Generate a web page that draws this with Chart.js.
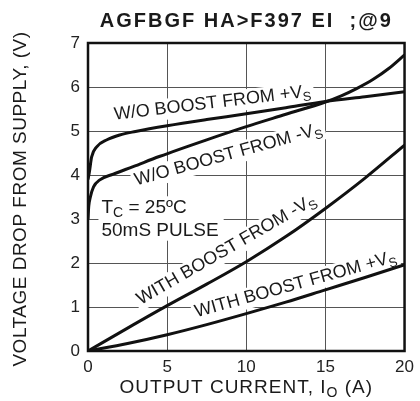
<!DOCTYPE html>
<html>
<head>
<meta charset="utf-8">
<script src="https://cdn.jsdelivr.net/npm/chart.js@4/dist/chart.umd.min.js"></script>
<style>
  html, body { margin: 0; padding: 0; background: #fff; }
  #wrap { width: 420px; height: 401px; position: relative; }
</style>
</head>
<body>
<div id="wrap"><canvas id="c"></canvas></div>
<script>
// ---- Data ----
const chartTitle = "AGFBGF HA>F397 EI  ;@9";
const xTickValues = [0, 5, 10, 15, 20];
const yTickValues = [0, 1, 2, 3, 4, 5, 6, 7];

const woPlusX  = [0, 0.08, 0.23, 0.55, 1.2, 2, 3, 5, 7.5, 10, 12.5, 15, 17.5, 20];
const woPlusY  = [3.9, 4.05, 4.41, 4.64, 4.8, 4.91, 4.99, 5.12, 5.26, 5.39, 5.53, 5.67, 5.78, 5.89];

const woMinusX = [0, 0.05, 0.15, 0.35, 0.75, 1.6, 2.85, 4.5, 7.5, 10, 12.5, 15, 16, 17, 18, 19, 20];
const woMinusY = [3.0, 3.3, 3.5, 3.73, 3.89, 4.02, 4.19, 4.42, 4.8, 5.1, 5.38, 5.66, 5.8, 5.97, 6.17, 6.42, 6.73];

const withMinusX = [0, 2.5, 5, 7.5, 10, 12.5, 15, 17.5, 20];
const withMinusY = [0, 0.52, 1.03, 1.52, 2.03, 2.6, 3.24, 3.93, 4.68];

const withPlusX = [0, 2.5, 5, 7.5, 10, 12.5, 15, 17.5, 20];
const withPlusY = [0, 0.17, 0.37, 0.6, 0.85, 1.11, 1.39, 1.67, 1.96];

// curve annotations (text, subscript, anchor in data units, angle in degrees)
const curveLabelText = ["W/O BOOST FROM +V", "W/O BOOST FROM -V", "WITH BOOST FROM -V", "WITH BOOST FROM +V"];
const curveLabelSub  = ["S", "S", "S", "S"];
const curveLabelX    = [7.9, 8.95, 8.9, 13.2];
const curveLabelY    = [5.52, 4.35, 2.2, 1.4];
const curveLabelAng  = [6.8, 15.5, 30, 15.5];

const xAxisTitle = ["OUTPUT CURRENT, I", "O", " (A)"];
const yAxisTitle = "VOLTAGE DROP FROM SUPPLY, (V)";
const noteLine1 = ["T", "C", " = 25ºC"];
const noteLine2 = "50mS PULSE";

// ---- Build ----
const pts = (xs, ys) => xs.map((v, i) => ({ x: v, y: ys[i] }));
const FONT = '"Liberation Sans", Arial, Helvetica, sans-serif';
Chart.defaults.font.family = FONT;

function drawSubText(ctx, parts, x, y, big, small, align) {
  ctx.font = big + 'px ' + FONT;
  const w0 = ctx.measureText(parts[0]).width;
  const w2 = parts[2] ? ctx.measureText(parts[2]).width : 0;
  ctx.font = small + 'px ' + FONT;
  const w1 = ctx.measureText(parts[1]).width;
  const total = w0 + w1 + w2;
  let sx = align === 'center' ? x - total / 2 : x;
  ctx.textAlign = 'left';
  ctx.textBaseline = 'alphabetic';
  ctx.font = big + 'px ' + FONT;
  ctx.fillText(parts[0], sx, y);
  ctx.font = small + 'px ' + FONT;
  ctx.fillText(parts[1], sx + w0, y + big * 0.22);
  if (parts[2]) {
    ctx.font = big + 'px ' + FONT;
    ctx.fillText(parts[2], sx + w0 + w1, y);
  }
  return { sx, total };
}

const annot = {
  id: 'annot',
  beforeDatasetsDraw(chart) {
    const { ctx, scales: { x, y }, chartArea } = chart;
    ctx.save();
    ctx.beginPath();
    ctx.rect(chartArea.left, chartArea.top, chartArea.right - chartArea.left, chartArea.bottom - chartArea.top);
    ctx.clip();
    for (let i = 0; i < curveLabelText.length; i++) {
      const px = x.getPixelForValue(curveLabelX[i]);
      const py = y.getPixelForValue(curveLabelY[i]);
      ctx.save();
      ctx.translate(px, py);
      ctx.rotate(-curveLabelAng[i] * Math.PI / 180);
      ctx.font = '18px ' + FONT;
      const w0 = ctx.measureText(curveLabelText[i]).width;
      ctx.font = '13px ' + FONT;
      const w1 = ctx.measureText(curveLabelSub[i]).width;
      const tot = w0 + w1;
      ctx.fillStyle = '#fff';
      ctx.fillRect(-tot / 2 - 3, -15, tot + 6, 21);
      ctx.fillStyle = '#1a1a1a';
      drawSubText(ctx, [curveLabelText[i], curveLabelSub[i], ''], 0, 0, 18, 13, 'center');
      ctx.restore();
    }
    const nx = x.getPixelForValue(0.85);
    const ny1 = y.getPixelForValue(3.13);
    const ny2 = y.getPixelForValue(2.62);
    ctx.font = '19px ' + FONT;
    const wn = ctx.measureText(noteLine2).width;
    ctx.fillStyle = '#fff';
    ctx.fillRect(nx - 3, ny1 - 17, wn + 8, (ny2 - ny1) + 22);
    ctx.fillStyle = '#1a1a1a';
    drawSubText(ctx, noteLine1, nx, ny1, 19, 14, 'left');
    ctx.font = '19px ' + FONT;
    ctx.textAlign = 'left';
    ctx.fillText(noteLine2, nx, ny2);
    ctx.restore();
  },
  afterDatasetsDraw(chart) {
    const { ctx, chartArea: a } = chart;
    ctx.save();
    ctx.strokeStyle = '#111';
    ctx.lineWidth = 2.5;
    ctx.strokeRect(a.left, a.top, a.right - a.left, a.bottom - a.top);
    ctx.restore();
  },
  afterDraw(chart) {
    const { ctx, chartArea: a } = chart;
    ctx.save();
    ctx.fillStyle = '#1a1a1a';
    ctx.font = 'bold 20px ' + FONT;
    ctx.letterSpacing = '2px';
    ctx.textAlign = 'center';
    ctx.textBaseline = 'alphabetic';
    ctx.fillText(chartTitle, (a.left + a.right) / 2, 27);
    ctx.letterSpacing = '1px';
    drawSubText(ctx, xAxisTitle, (a.left + a.right) / 2, 393, 19, 14, 'center');
    ctx.save();
    ctx.translate(26, (a.top + a.bottom) / 2 + 2);
    ctx.rotate(-Math.PI / 2);
    ctx.font = '19px ' + FONT;
    ctx.letterSpacing = '0.5px';
    ctx.textAlign = 'center';
    ctx.fillText(yAxisTitle, 0, 0);
    ctx.restore();
    ctx.restore();
  }
};

const lineStyle = {
  borderColor: '#111',
  borderWidth: 3,
  pointRadius: 0,
  fill: false,
  cubicInterpolationMode: 'monotone'
};

new Chart(document.getElementById('c'), {
  type: 'line',
  data: {
    datasets: [
      { label: 'W/O BOOST FROM +VS', data: pts(woPlusX, woPlusY), ...lineStyle },
      { label: 'W/O BOOST FROM -VS', data: pts(woMinusX, woMinusY), ...lineStyle },
      { label: 'WITH BOOST FROM -VS', data: pts(withMinusX, withMinusY), ...lineStyle },
      { label: 'WITH BOOST FROM +VS', data: pts(withPlusX, withPlusY), ...lineStyle }
    ]
  },
  options: {
    responsive: true,
    maintainAspectRatio: false,
    animation: false,
    layout: { padding: { top: 43, right: 14, left: 0, bottom: 0 } },
    plugins: { legend: { display: false }, tooltip: { enabled: false }, title: { display: false } },
    scales: {
      x: {
        type: 'linear', min: 0, max: 20,
        afterBuildTicks: s => { s.ticks = xTickValues.map(v => ({ value: v })); },
        afterFit: s => { s.height = 50; },
        grid: { color: '#555', lineWidth: 1, drawTicks: false },
        border: { display: false },
        ticks: { color: '#222', font: { size: 17 }, padding: 6, maxRotation: 0 }
      },
      y: {
        type: 'linear', min: 0, max: 7,
        afterBuildTicks: s => { s.ticks = yTickValues.map(v => ({ value: v })); },
        afterFit: s => { s.width = 88; },
        grid: { color: '#555', lineWidth: 1, drawTicks: false },
        border: { display: false },
        ticks: { color: '#222', font: { size: 17 }, padding: 8 }
      }
    }
  },
  plugins: [annot]
});
</script>
</body>
</html>
